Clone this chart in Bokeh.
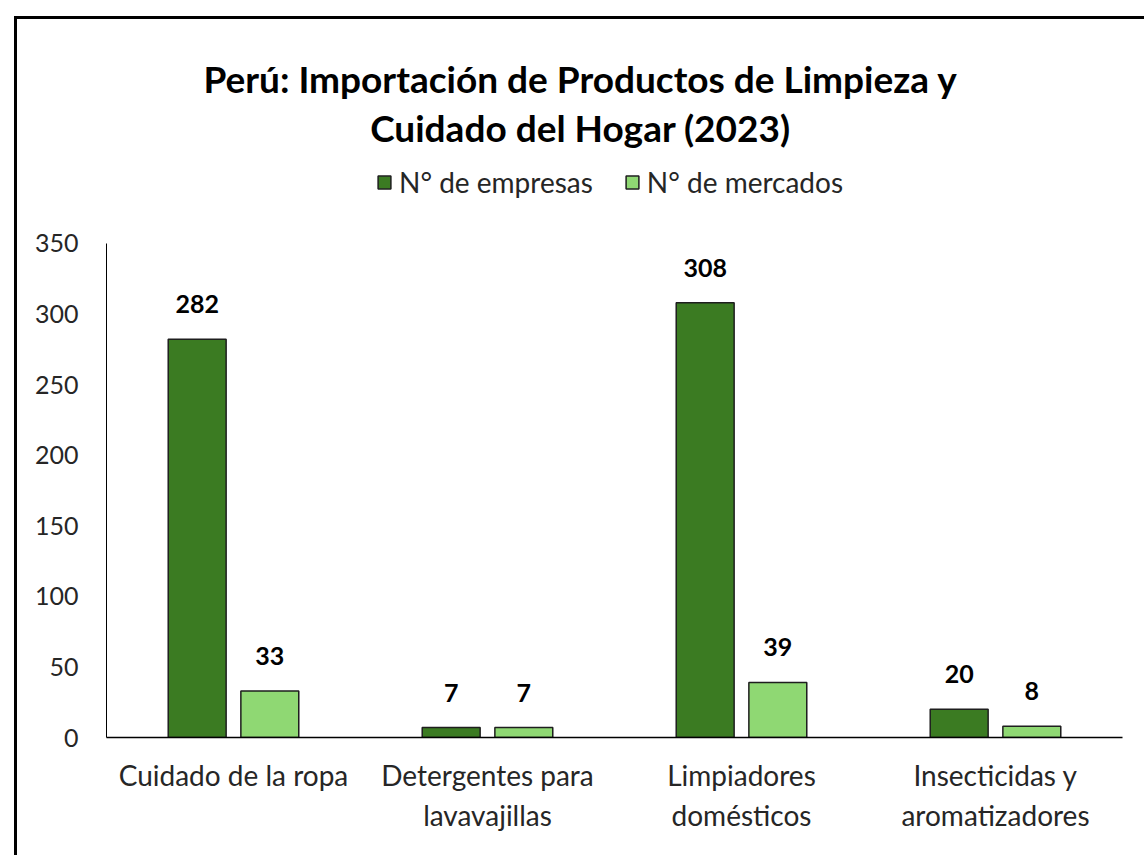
from bokeh.plotting import figure
from bokeh.models import (FactorRange, Range1d, FixedTicker, Legend, LegendItem, Label,
                          ColumnDataSource)
from bokeh.transform import dodge
from bokeh.core.properties import value
from bokeh.embed import file_html
from bokeh.resources import INLINE

categories = ["Cuidado de la ropa", "Detergentes para\nlavavajillas",
              "Limpiadores\ndomésticos", "Insecticidas y\naromatizadores"]
empresas = [282, 7, 308, 20]
mercados = [33, 7, 39, 8]
y_ticks = [0, 50, 100, 150, 200, 250, 300, 350]
series_names = ["N° de empresas", "N° de mercados"]
title_lines = ["Perú: Importación de Productos de Limpieza y", "Cuidado del Hogar (2023)"]

DARK = "#3b7b22"
LIGHT = "#8fd873"
FONT = "Lato"
Y_AXIS_MAX = 350
Y_RANGE_TOP = 522  # extra room above the axis holds the title and legend

src = ColumnDataSource(dict(cat=categories, emp=empresas, mer=mercados,
                            emp_t=[str(v) for v in empresas], mer_t=[str(v) for v in mercados]))

p = figure(x_range=FactorRange(*categories, range_padding=0), y_range=Range1d(0, Y_RANGE_TOP),
           width=1144, height=855, output_backend="svg", toolbar_location=None,
           title_location=None, min_border_left=106, min_border_right=22,
           min_border_top=0, min_border_bottom=118)
p.outline_line_color = None
p.grid.visible = False
p.border_fill_color = None
p.background_fill_color = None
p.styles = {"background": "linear-gradient(#000,#000) 14px 16px / 3px 100% no-repeat, "
                          "linear-gradient(#000,#000) 14px 16px / 100% 3px no-repeat, #ffffff"}

off = 0.143
w = 0.228
r1 = p.vbar(x=dodge("cat", -off, range=p.x_range), top="emp", width=w, source=src,
            fill_color=DARK, line_color="#1e1e1e", line_width=1.5)
r2 = p.vbar(x=dodge("cat", off, range=p.x_range), top="mer", width=w, source=src,
            fill_color=LIGHT, line_color="#1e1e1e", line_width=1.5)

for col, d in (("emp_t", -off), ("mer_t", off)):
    p.text(x=dodge("cat", d, range=p.x_range), y=col.replace("_t", ""), text=col, source=src,
           text_align="center", text_baseline="alphabetic", y_offset=-35,
           text_font=value(FONT), text_font_style="bold", text_font_size="25px",
           text_color="#000000")

p.yaxis.ticker = FixedTicker(ticks=y_ticks)
p.yaxis.bounds = (0, Y_AXIS_MAX)
for ax in (p.xaxis, p.yaxis):
    ax.major_tick_line_color = None
    ax.minor_tick_line_color = None
    ax.major_label_text_font = FONT
    ax.major_label_text_color = "#262626"
p.yaxis.major_label_text_font_size = "25px"
p.xaxis.major_label_text_font_size = "28px"
p.yaxis.axis_line_color = "#000000"
p.yaxis.axis_line_width = 1
p.xaxis.axis_line_color = "#000000"
p.xaxis.axis_line_width = 1.5
p.yaxis.major_label_standoff = 22
p.xaxis.major_label_standoff = 14

legend = Legend(items=[LegendItem(label=series_names[0], renderers=[r1]),
                       LegendItem(label=series_names[1], renderers=[r2])],
                orientation="horizontal", location=(270, 538), border_line_color=None,
                background_fill_alpha=0, padding=0, margin=0, spacing=31,
                label_standoff=7, glyph_width=16, glyph_height=16,
                label_text_font=FONT, label_text_font_size="28px",
                label_text_color="#262626")
p.add_layout(legend, "center")

for t, yy in zip(title_lines, [659, 610]):
    p.add_layout(Label(x=474, y=yy, x_units="screen", y_units="screen", text=t,
                       text_align="center", text_baseline="middle", text_font=FONT,
                       text_font_style="bold", text_font_size="37px", text_color="#000000"))

open("out.html", "w").write(file_html(p, INLINE))
